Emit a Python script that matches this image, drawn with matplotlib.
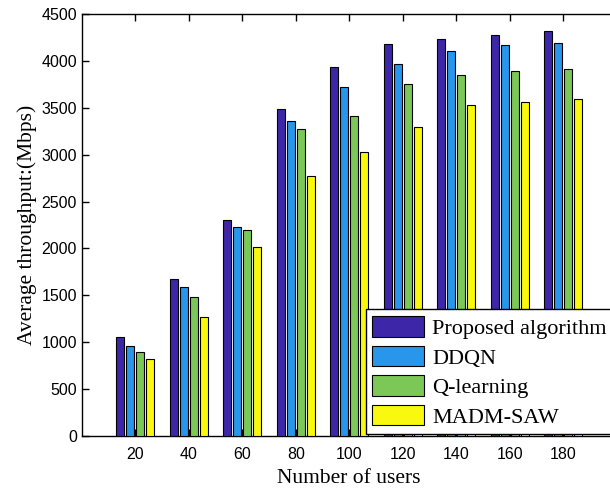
import numpy as np
import matplotlib.pyplot as plt

users = [20, 40, 60, 80, 100, 120, 140, 160, 180]
proposed = [1055, 1675, 2303, 3487, 3938, 4176, 4230, 4276, 4315]
ddqn = [962, 1587, 2232, 3359, 3717, 3963, 4102, 4166, 4194]
qlearn = [893, 1477, 2193, 3270, 3416, 3757, 3849, 3895, 3909]
madm = [823, 1267, 2012, 2776, 3032, 3298, 3526, 3558, 3590]

names = ['Proposed algorithm', 'DDQN', 'Q-learning', 'MADM-SAW']
colors = ['#3e26a8', '#2796eb', '#7cc857', '#f9f90f']

serif = ['Liberation Serif', 'DejaVu Serif']
sans = ['Liberation Sans', 'DejaVu Sans']

fig = plt.figure(figsize=(6.1, 4.88), dpi=100)
ax = fig.add_axes([0.134, 0.1066, 0.877, 0.8648])

x = np.array(users, dtype=float)
width = 3.0
step = 3.7
series = [proposed, ddqn, qlearn, madm]
for i, (vals, c, n) in enumerate(zip(series, colors, names)):
    ax.bar(x + (i - 1.5) * step, vals, width, color=c, edgecolor='black',
           linewidth=0.8, label=n, zorder=3)

ax.set_xlim(0, 200)
ax.set_ylim(0, 4500)
ax.set_xticks(users)
ax.set_yticks(np.arange(0, 4501, 500))
ax.tick_params(direction='in', top=True, right=False, length=5, width=1,
               labelsize=11.5)
ax.tick_params(axis='x', pad=8)
for lbl in ax.get_xticklabels() + ax.get_yticklabels():
    lbl.set_family(sans)
for s in ax.spines.values():
    s.set_linewidth(1)

ax.set_xlabel('Number of users', family=serif, fontsize=15.5, labelpad=5)
ax.set_ylabel('Average throughput:(Mbps)', family=serif, fontsize=15.5,
              labelpad=3)

leg = ax.legend(loc='lower left', bbox_to_anchor=(0.531, 0.004),
                prop={'family': serif, 'size': 16}, frameon=True,
                fancybox=False, edgecolor='black', framealpha=1,
                handlelength=2.3, handleheight=1.05, labelspacing=0.3,
                handletextpad=0.4, borderpad=0.3, borderaxespad=0)
leg.get_frame().set_linewidth(1)
leg.set_zorder(5)

fig.savefig('out.png', dpi=100)
